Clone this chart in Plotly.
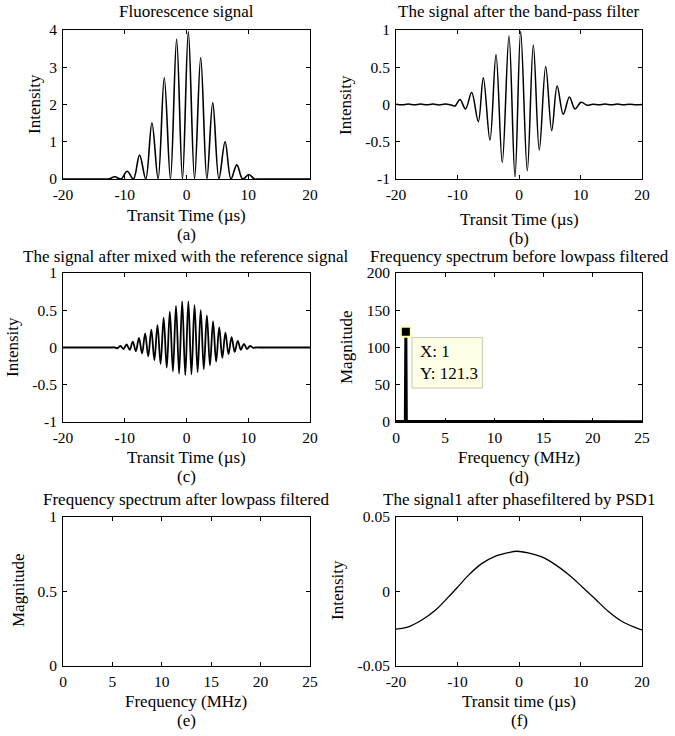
import plotly.graph_objects as go

# ---------------- data ----------------
# (a) fluorescence signal: vertices (peaks / troughs)
fl_t = [-20, -17, -14.5, -13.2, -12.6, -11.6, -10.6, -9.6, -8.6, -7.6, -6.6, -5.6, -4.6, -3.6, -2.6,
        -1.6, -0.65, 0.3, 1.3, 2.3, 3.3, 4.25, 5.25, 6.25, 7.2, 8.15, 9.1, 10.1, 11.0, 11.6, 13, 16, 20]
fl_v = [0, 0, 0, 0, 0, 0.06, 0, 0.21, 0, 0.64, 0, 1.51, 0, 2.72, 0,
        3.75, 0, 3.95, 0, 3.26, 0, 2.05, 0, 1.0, 0, 0.38, 0, 0.12, 0, 0, 0, 0, 0]

# (b) after band-pass filter
bp_t = [-20, -19, -18, -17, -16, -15, -14, -13, -12, -11, -10.4, -9.6, -8.7, -7.7, -6.62,
        -5.8, -4.72, -3.74, -2.72, -1.63, -0.65, 0.27, 1.35, 2.33, 3.3, 4.34, 5.32,
        6.2, 7.2, 8.2, 9.1, 10.1, 11.1, 12, 13, 14, 15, 16, 17, 18, 19, 20]
bp_v = [0.004, -0.004, 0.006, -0.005, 0.006, -0.005, 0.006, -0.006, 0.006, -0.008, -0.02, 0.067, -0.06, 0.16, -0.23,
        0.36, -0.48, 0.67, -0.78, 0.92, -0.97, 0.98, -0.89, 0.80, -0.61, 0.51, -0.35,
        0.25, -0.13, 0.10, -0.06, 0.03, -0.01, 0.005, -0.005, 0.006, -0.005, 0.006, -0.005, 0.005, -0.003, 0.0]

# (c) after mixing with the reference signal
mx_t = [-20, -17, -14, -12, -11.6, -11.2, -10.7, -10.2, -9.7, -9.2, -8.7, -8.2, -7.7, -7.2, -6.7, -6.2, -5.7,
        -5.2, -4.7, -4.2, -3.7, -3.2, -2.7, -2.2, -1.7, -1.2, -0.7, -0.2, 0.3, 0.8,
        1.3, 1.8, 2.3, 2.8, 3.3, 3.8, 4.3, 4.8, 5.3, 5.8, 6.3, 6.8, 7.3, 7.8, 8.3,
        8.8, 9.3, 9.8, 10.3, 10.8, 11.2, 12, 14, 17, 20]
mx_v = [0, 0, 0, 0, 0, -0.01, 0.02, -0.02, 0.04, -0.03, 0.08, -0.05, 0.13, -0.08, 0.19, -0.12, 0.24,
        -0.17, 0.30, -0.22, 0.40, -0.27, 0.48, -0.32, 0.56, -0.35, 0.62, -0.37, 0.62, -0.36,
        0.57, -0.33, 0.50, -0.29, 0.43, -0.24, 0.35, -0.19, 0.27, -0.14, 0.20, -0.09, 0.14, -0.06, 0.09,
        -0.03, 0.05, -0.02, 0.02, -0.005, 0, 0, 0, 0, 0]

# (d) spectrum before low-pass filter
sp_f = [0, 0.5, 0.95, 1.0, 1.05, 1.5, 5, 10, 15, 20, 25]
sp_m = [0.6, 0.6, 1.0, 121.3, 1.0, 0.6, 0.5, 0.5, 0.5, 0.5, 0.5]
peak_f = 1
peak_m = 121.3

# (f) signal after phase filter by PSD1
ps_t = [-20, -18.26, -15.8, -13.66, -11.5, -9.87, -8.24, -6.07, -3.9, -1.74, -0.37,
        1.5, 3.7, 5.85, 8.0, 10.2, 12.36, 14.5, 16.7, 18.86, 20]
ps_v = [-0.0252, -0.0241, -0.0191, -0.0128, -0.0038, 0.0034, 0.0108, 0.0187, 0.0236, 0.0261, 0.027,
        0.0259, 0.0232, 0.0182, 0.0115, 0.0034, -0.0049, -0.0133, -0.020, -0.0241, -0.0258]

# ---------------- layout helpers ----------------
W, H = 675, 736
L, R, T, B = 63, 33, 30, 70
PW, PH = W - L - R, H - T - B
FONT = "Liberation Serif, Times New Roman, serif"
FS = 17
TFS = 15.5


def px(x):
    return (x - L) / PW


def py(y):
    return (H - B - y) / PH


col_dom = [[0, px(310)], [px(396), 1]]
row_dom = [[py(179), 1], [py(422), py(273)], [0, py(517)]]

fig = go.Figure()

fig.add_trace(go.Scatter(x=fl_t, y=fl_v, mode="lines", line=dict(color="black", width=1.6, shape="spline", smoothing=1.0), xaxis="x", yaxis="y"))
fig.add_trace(go.Scatter(x=bp_t, y=bp_v, mode="lines", line=dict(color="black", width=1.5, shape="spline", smoothing=1.0), xaxis="x2", yaxis="y2"))
fig.add_trace(go.Scatter(x=mx_t, y=mx_v, mode="lines", line=dict(color="black", width=1.8, shape="spline", smoothing=1.0), xaxis="x3", yaxis="y3"))
fig.add_trace(go.Scatter(x=sp_f, y=sp_m, mode="lines", line=dict(color="black", width=3), xaxis="x4", yaxis="y4"))
fig.add_trace(go.Scatter(x=[peak_f], y=[peak_m], mode="markers",
                         marker=dict(symbol="square", size=10, color="black", line=dict(color="#FFFFB0", width=2)),
                         xaxis="x4", yaxis="y4"))
fig.add_trace(go.Scatter(x=[], y=[], mode="lines", xaxis="x5", yaxis="y5"))
fig.add_trace(go.Scatter(x=ps_t, y=ps_v, mode="lines", line=dict(color="black", width=1.3, shape="spline"), xaxis="x6", yaxis="y6"))

axis_common = dict(showline=True, linecolor="black", linewidth=1, mirror="ticks", ticks="inside",
                   ticklen=4, tickcolor="black", showgrid=False, zeroline=False,
                   tickfont=dict(family=FONT, size=TFS, color="black"), fixedrange=True)

t20 = dict(range=[-20, 20], tickvals=[-20, -10, 0, 10, 20], ticktext=["-20", "-10", "0", "10", "20"])
f25 = dict(range=[0, 25], tickvals=[0, 5, 10, 15, 20, 25], ticktext=["0", "5", "10", "15", "20", "25"])

specs = [
    (1, 0, 0, t20, dict(range=[0, 4], tickvals=[0, 1, 2, 3, 4], ticktext=["0", "1", "2", "3", "4"])),
    (2, 0, 1, t20, dict(range=[-1, 1], tickvals=[-1, -0.5, 0, 0.5, 1], ticktext=["-1", "-0.5", "0", "0.5", "1"])),
    (3, 1, 0, t20, dict(range=[-1, 1], tickvals=[-1, -0.5, 0, 0.5, 1], ticktext=["-1", "-0.5", "0", "0.5", "1"])),
    (4, 1, 1, f25, dict(range=[0, 200], tickvals=[0, 50, 100, 150, 200], ticktext=["0", "50", "100", "150", "200"])),
    (5, 2, 0, f25, dict(range=[0, 1], tickvals=[0, 0.5, 1], ticktext=["0", "0.5", "1"])),
    (6, 2, 1, t20, dict(range=[-0.05, 0.05], tickvals=[-0.05, 0, 0.05], ticktext=["-0.05", "0", "0.05"])),
]

lay = {}
for i, r, c, xs, ys in specs:
    sfx = "" if i == 1 else str(i)
    lay["xaxis" + sfx] = dict(axis_common, domain=col_dom[c], anchor="y" + sfx, ticklabelstandoff=1, **xs)
    lay["yaxis" + sfx] = dict(axis_common, domain=row_dom[r], anchor="x" + sfx, ticklabelstandoff=2, **ys)

ann = []


def text(s, x, y, size=FS, angle=0, xanchor="center"):
    ann.append(dict(text=s, x=px(x), y=py(y), xref="paper", yref="paper", showarrow=False,
                    xanchor=xanchor, yanchor="middle", textangle=angle,
                    font=dict(family=FONT, size=size, color="black")))


# titles
text("Fluorescence signal", 186, 12)
text("The signal after the band-pass filter", 519, 12)
text("The signal after mixed with the reference signal", 186, 256)
text("Frequency spectrum before lowpass filtered", 519, 256)
text("Frequency spectrum after lowpass filtered", 186, 500)
text("The signal1 after phasefiltered by PSD1", 519, 500)
# x axis titles
text("Transit Time (µs)", 186, 215)
text("Transit Time (µs)", 519, 219)
text("Transit Time (µs)", 186, 457)
text("Frequency (MHz)", 519, 457)
text("Frequency (MHz)", 186, 701)
text("Transit time (µs)", 519, 701)
# panel letters
text("(a)", 186, 234)
text("(b)", 519, 238)
text("(c)", 186, 476)
text("(d)", 519, 477)
text("(e)", 186, 720)
text("(f)", 519, 720)
# y axis titles
text("Intensity", 35, 104, angle=-90)
text("Intensity", 345, 105, angle=-90)
text("Intensity", 13, 347, angle=-90)
text("Magnitude", 347, 347, angle=-90)
text("Magnitude", 18, 590, angle=-90)
text("Intensity", 337, 590, angle=-90)

# datatip in panel (d)
ann.append(dict(text=f"X: {peak_f:g}<br>Y: {peak_m:g}", x=2.2, y=79.5, xref="x4", yref="y4",
                showarrow=False, xanchor="left", yanchor="middle", align="left",
                font=dict(family=FONT, size=FS, color="black")))

shapes = [dict(type="rect", xref="x4", yref="y4", x0=1.62, x1=8.78, y0=45.6, y1=113.2,
               fillcolor="#FFFFE6", line=dict(color="#C8C8B4", width=1), layer="above")]

fig.update_layout(width=W, height=H, margin=dict(l=L, r=R, t=T, b=B),
                  paper_bgcolor="white", plot_bgcolor="white", showlegend=False,
                  annotations=ann, shapes=shapes, **lay)

fig.write_html("out.html", config={"displayModeBar": False, "staticPlot": True},
               post_script="document.body.style.margin='0';document.body.style.padding='0';document.body.style.overflow='hidden';")
